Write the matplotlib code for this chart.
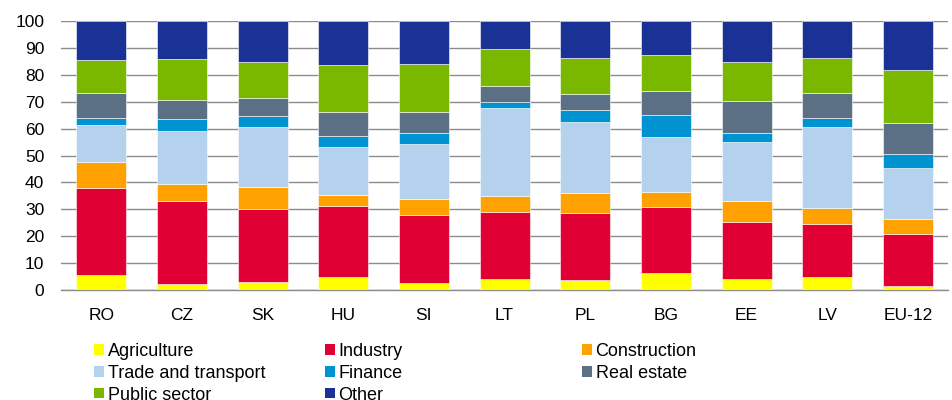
import matplotlib
matplotlib.use("Agg")
import matplotlib.pyplot as plt
from matplotlib.patches import Patch
import numpy as np

plt.rcParams['font.family'] = ['Liberation Sans', 'DejaVu Sans']

countries = ["RO", "CZ", "SK", "HU", "SI", "LT", "PL", "BG", "EE", "LV", "EU-12"]
sectors = ["Agriculture", "Industry", "Construction", "Trade and transport",
           "Finance", "Real estate", "Public sector", "Other"]
colors = ["#FFFF00", "#E00034", "#FFA100", "#B4D1EE",
          "#0093D2", "#5B7085", "#7AB800", "#1A3296"]

agriculture = [5.4, 2.2, 3.1, 4.7, 2.6, 4.0, 3.7, 6.2, 4.1, 5.0, 1.6]
industry = [32.5, 31.0, 26.9, 26.6, 25.1, 25.0, 24.8, 24.5, 21.0, 19.4, 19.1]
construction = [9.7, 6.3, 8.2, 4.0, 6.0, 5.9, 7.6, 5.8, 7.8, 6.2, 5.7]
trade_transport = [13.7, 19.5, 22.3, 17.7, 20.5, 32.9, 26.5, 20.3, 22.3, 29.9, 19.0]
finance = [2.7, 4.4, 4.1, 4.3, 4.2, 2.2, 4.5, 8.1, 3.2, 3.6, 5.0]
real_estate = [9.3, 7.3, 6.8, 8.9, 7.8, 5.9, 5.8, 9.2, 11.9, 9.0, 11.5]
public_sector = [12.1, 15.1, 13.4, 17.3, 17.7, 13.6, 13.4, 13.2, 14.5, 13.3, 19.8]
other = [14.6, 14.2, 15.2, 16.5, 16.1, 10.5, 13.7, 12.7, 15.2, 13.6, 18.3]

series = [agriculture, industry, construction, trade_transport,
          finance, real_estate, public_sector, other]

fig = plt.figure(figsize=(9.52, 4.0), dpi=100)
ax = fig.add_axes([0.064, 0.275, 0.932, 0.6725])

x = np.arange(len(countries))
bottom = np.zeros(len(countries))
handles = []
for vals, col, name in zip(series, colors, sectors):
    ax.bar(x, vals, bottom=bottom, width=0.62, color=col,
           edgecolor="white", linewidth=0.4, zorder=3)
    bottom += np.array(vals)
    handles.append(Patch(facecolor=col, edgecolor="none", label=name))

ax.set_xlim(-0.5, len(countries) - 0.5)
ax.set_ylim(0, 100)
ax.set_yticks(range(0, 101, 10))
ax.set_xticks(x)
ax.set_xticklabels(countries)
ax.yaxis.grid(True, color="#8C8C8C", linewidth=1.0, zorder=0)
ax.set_axisbelow(True)
for s in ["top", "right", "left"]:
    ax.spines[s].set_visible(False)
ax.spines["bottom"].set_color("#8C8C8C")
ax.spines["bottom"].set_linewidth(1.0)
ax.tick_params(axis="both", length=0, labelsize=12.5, colors="black")
ax.tick_params(axis="x", pad=13)
ax.tick_params(axis="y", pad=12)

# legend in three columns, row-major order
cols_idx = [[0, 3, 6], [1, 4, 7], [2, 5]]
xpos = [0.0987, 0.341, 0.611]
for idx, xp in zip(cols_idx, xpos):
    fig.legend([handles[i] for i in idx], [sectors[i] for i in idx],
               loc="upper left", bbox_to_anchor=(xp, 0.1425),
               bbox_transform=fig.transFigure, frameon=False,
               handlelength=0.55, handleheight=0.5, handletextpad=0.22,
               labelspacing=0.27, borderpad=0, borderaxespad=0,
               fontsize=13)

fig.savefig("out.png", dpi=100)
